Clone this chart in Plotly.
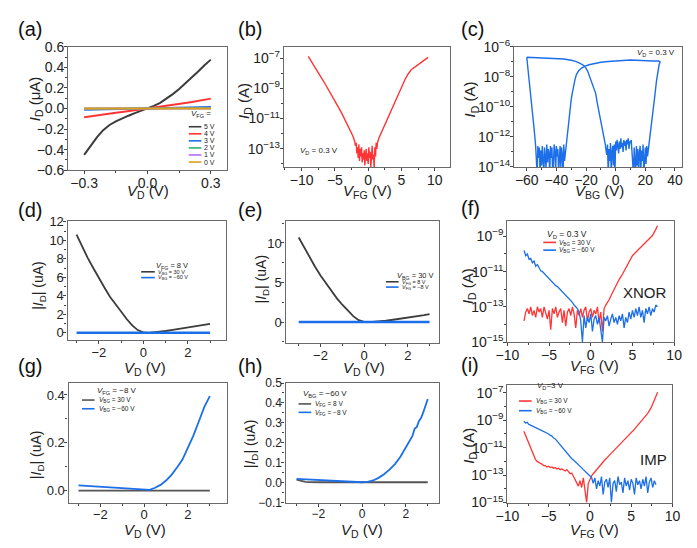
import plotly.graph_objects as go

W, H = 697, 548
FONT = "Liberation Sans, Arial, sans-serif"
BLACK = "#3c3c3c"
RED = "#ff3535"
BLUE = "#1c6fe8"
GREEN = "#2db36b"
PURPLE = "#b46ef0"
ORANGE = "#d9a21b"
GRAY = "#555555"

# ---------------- (a) output curves ----------------
A_VD = [-0.30, -0.27, -0.24, -0.21, -0.18, -0.15, -0.12, -0.09, -0.06, -0.03, 0.00,
        0.03, 0.06, 0.09, 0.12, 0.15, 0.18, 0.21, 0.24, 0.27, 0.30]
A_5V = [-0.45, -0.36, -0.28, -0.21, -0.16, -0.125, -0.095, -0.07, -0.045, -0.022, 0.0,
        0.025, 0.055, 0.095, 0.14, 0.19, 0.25, 0.305, 0.36, 0.42, 0.475]
A_4V = [-0.085, -0.075, -0.066, -0.057, -0.049, -0.041, -0.033, -0.025, -0.016, -0.008, 0.0,
        0.008, 0.017, 0.026, 0.035, 0.044, 0.054, 0.064, 0.074, 0.085, 0.096]
A_3V = [-0.012, -0.011, -0.010, -0.009, -0.007, -0.006, -0.005, -0.004, -0.002, -0.001, 0.0,
        0.001, 0.003, 0.004, 0.006, 0.007, 0.009, 0.010, 0.011, 0.013, 0.014]
A_2V = [-0.003, -0.003, -0.002, -0.002, -0.002, -0.001, -0.001, -0.001, -0.001, 0.0, 0.0,
        0.0, 0.001, 0.001, 0.001, 0.002, 0.002, 0.002, 0.003, 0.003, 0.004]
A_1V = [-0.001, -0.001, -0.001, -0.001, 0.0, 0.0, 0.0, 0.0, 0.0, 0.0, 0.0,
        0.0, 0.0, 0.0, 0.0, 0.0, 0.0, 0.001, 0.001, 0.001, 0.001]
A_0V = [0.0, 0.0, 0.0, 0.0, 0.0, 0.0, 0.0, 0.0, 0.0, 0.0, 0.0,
        0.0, 0.0, 0.0, 0.0, 0.0, 0.0, 0.0, 0.0, 0.0, 0.0]
A_LABELS = ["5 V", "4 V", "3 V", "2 V", "1 V", "0 V"]

# ---------------- (b) transfer, front gate (log10 of I_D) ----------------
B_VFG = [-9.0, -8.5, -8.0, -7.5, -7.0, -6.5, -6.0, -5.5, -5.0, -4.5, -4.0, -3.5, -3.0, -2.6, -2.3, -2.0,
         -1.9, -1.8, -1.7, -1.6, -1.5, -1.4, -1.3, -1.2, -1.1, -1.0, -0.9, -0.8, -0.7, -0.6, -0.5, -0.4,
         -0.3, -0.2, -0.1, 0.0, 0.1, 0.2, 0.3, 0.4, 0.5, 0.6, 0.7, 0.8, 0.9, 1.0, 1.1, 1.2, 1.3,
         1.4, 1.6, 2.0, 2.5, 3.0, 3.5, 4.0, 4.5, 5.0, 5.5, 6.0, 6.5, 7.0, 7.5, 8.0, 8.5, 9.0]
B_LOGI = [-6.88, -7.22, -7.58, -7.95, -8.33, -8.68, -9.05, -9.40, -9.80, -10.22, -10.62, -11.05, -11.45, -11.85, -12.15, -12.55,
          -12.8, -12.6, -13.3, -12.9, -13.6, -12.7, -13.8, -13.0, -13.5, -12.9, -13.9, -13.3, -13.7, -13.1, -14.1, -13.4,
          -13.0, -13.8, -13.3, -14.0, -12.9, -13.6, -13.2, -14.2, -13.1, -12.8, -13.7, -13.4, -14.3, -12.9, -13.5, -12.6, -13.0,
          -12.6, -12.3, -11.9, -11.4, -10.9, -10.4, -9.9, -9.4, -8.9, -8.45, -8.05, -7.75, -7.6, -7.45, -7.3, -7.12, -6.95]

# ---------------- (c) transfer, back gate, double sweep (log10 of I_D) ----------------
C_VBG = [-60, -55, -50, -45, -40, -35, -30, -27, -24, -21, -19, -17, -15, -13.5, -12.5, -11, -10, -9, -8, -7, -6.5,
         -6.0, -5.5, -5.0, -4.5, -4.0, -3.5, -3.0, -2.5, -2.0, -1.5, -1.0, -0.5,
         0.0, 0.5, 1.0, 1.5, 2.0, 2.5, 3.0, 3.5, 4.0, 4.5, 5.0, 5.5,
         6.0, 6.5, 7.0, 7.5, 8.0, 8.5, 9.0, 9.5, 10.0, 10.5, 11.0, 11.5,
         12.0, 12.5, 13.0, 13.5, 14.0, 14.5, 15.0, 15.5, 16.0, 16.5, 17.0, 17.5,
         18.0, 18.5, 19.0, 19.5, 20.0, 20.5, 21.0, 21.5, 22.0,
         22.5, 23.5, 24.5, 25.5, 26.5, 27.5, 28.5, 29.3, 30,
         29, 25, 20, 15, 10, 5, 0, -5, -10, -15, -18, -21, -23, -25, -26.5, -27.5, -28.5, -29.3, -30, -30.7,
         -31.3, -32, -32.7, -33.3,
         -34.0, -34.5, -35.0, -35.5, -36.0, -36.5, -37.0, -37.5, -38.0, -38.5,
         -39.0, -39.5, -40.0, -40.5, -41.0, -41.5, -42.0, -42.5, -43.0, -43.5,
         -44.0, -44.5, -45.0, -45.5, -46.0, -46.5, -47.0, -47.5, -48.0, -48.5,
         -49.0, -49.5, -50.0, -50.5, -51.0, -51.5, -52.0, -52.5, -53.0, -53.5,
         -54, -55, -56, -57, -58, -59, -60]
C_LOGI = [-6.70, -6.72, -6.73, -6.76, -6.78, -6.82, -6.90, -6.97, -7.10, -7.28, -7.60, -8.10, -8.60, -9.10, -9.70, -10.40, -10.90, -11.40, -11.90, -12.50, -12.90,
          -13.2, -12.5, -14.5, -12.8, -13.6, -12.4, -14.5, -13.0, -12.6, -13.9, -12.5, -14.5,
          -12.3, -12.9, -12.2, -12.6, -13.1, -12.3, -12.8, -12.1, -12.7, -12.4, -13.0, -12.2,
          -12.6, -12.3, -12.9, -12.2, -12.5, -12.1, -12.8, -12.3, -12.4, -12.2, -12.7, -13.3,
          -14.5, -12.7, -13.5, -14.5, -12.6, -13.9, -12.8, -14.5, -13.1, -12.6, -14.2, -12.9,
          -13.6, -12.5, -14.5, -13.0, -12.7, -13.8, -12.6, -13.3, -12.9,
          -12.8, -11.8, -10.8, -10.0, -9.2, -8.3, -7.6, -7.2, -7.0,
          -6.95, -6.95, -6.92, -6.93, -6.88, -6.92, -6.93, -6.98, -7.03, -7.12, -7.20, -7.30, -7.42, -7.60, -7.85, -8.20, -8.60, -9.10, -9.50, -10.10,
          -10.70, -11.40, -12.00, -12.40,
          -12.9, -13.6, -12.5, -14.5, -13.2, -12.7, -14.0, -12.6, -13.5, -14.5,
          -12.8, -13.3, -12.6, -14.3, -13.0, -12.5, -13.8, -14.5, -12.7, -13.4,
          -12.6, -14.5, -13.1, -12.8, -13.7, -12.5, -14.1, -13.0, -12.7, -14.5,
          -13.3, -12.6, -13.9, -12.9, -14.5, -12.7, -13.4, -12.6, -14.5, -13.0,
          -12.6, -11.5, -10.5, -9.6, -8.6, -7.7, -6.7]

# ---------------- (d) / (e) output curves ----------------
DE_VD = [-3.0, -2.75, -2.5, -2.25, -2.0, -1.75, -1.5, -1.25, -1.0, -0.75, -0.5, -0.25, 0.0,
         0.25, 0.5, 0.75, 1.0, 1.25, 1.5, 1.75, 2.0, 2.25, 2.5, 2.75, 3.0]
D_ON = [10.6, 9.3, 8.1, 7.0, 5.9, 4.9, 3.9, 3.05, 2.3, 1.5, 0.8, 0.3, 0.05,
        0.0, 0.05, 0.12, 0.2, 0.29, 0.38, 0.46, 0.55, 0.65, 0.75, 0.86, 0.97]
D_OFF = [0.01, 0.01, 0.01, 0.01, 0.01, 0.01, 0.01, 0.01, 0.01, 0.01, 0.0, 0.0, 0.0,
         0.0, 0.0, 0.0, 0.01, 0.01, 0.01, 0.01, 0.01, 0.01, 0.01, 0.01, 0.01]
E_ON = [10.7, 9.4, 8.2, 7.0, 5.9, 4.9, 3.9, 3.0, 2.2, 1.45, 0.75, 0.25, 0.03,
        0.0, 0.04, 0.1, 0.18, 0.27, 0.36, 0.45, 0.55, 0.66, 0.77, 0.88, 1.0]
E_OFF = [0.01, 0.01, 0.01, 0.01, 0.01, 0.01, 0.01, 0.01, 0.01, 0.01, 0.0, 0.0, 0.0,
         0.0, 0.0, 0.0, 0.01, 0.01, 0.01, 0.01, 0.01, 0.01, 0.01, 0.01, 0.01]

# ---------------- (f) XNOR (log10 of I_D) ----------------
F_RED_X = [-8.0, -7.8, -7.6, -7.4, -7.2, -7.0, -6.8, -6.6, -6.4, -6.2, -6.0, -5.8, -5.6, -5.4, -5.2, -5.0,
           -4.8, -4.6, -4.4, -4.2, -4.0, -3.8, -3.6, -3.4, -3.2, -3.0, -2.8, -2.6, -2.4, -2.2, -2.0,
           -1.8, -1.6, -1.4, -1.2, -1.0, -0.8, -0.6, -0.4, -0.2, 0.0, 0.2, 0.4, 0.6, 0.8, 1.0, 1.2, 1.4, 1.6,
           1.8, 2.2, 2.6, 3.0, 3.4, 3.8, 4.2, 4.6, 5.0, 5.4, 5.8, 6.2, 6.6, 7.0, 7.4, 7.8, 8.0]
F_RED = [-13.8, -13.3, -13.1, -13.4, -13.0, -13.5, -13.2, -13.6, -13.0, -13.3, -13.1, -13.6, -13.0, -13.3, -13.7, -13.2,
         -14.3, -13.1, -13.4, -13.0, -13.6, -13.3, -13.1, -13.9, -13.2, -14.1, -13.3, -13.1, -13.5, -13.0, -13.4,
         -14.2, -13.2, -13.5, -13.1, -13.6, -13.2, -13.0, -13.8, -13.3, -13.1, -13.6, -13.2, -13.4, -13.0, -13.9, -13.3, -14.4, -13.1,
         -12.9, -12.6, -12.2, -11.8, -11.45, -11.15, -10.8, -10.45, -10.1, -9.9, -9.7, -9.55, -9.35, -9.15, -8.95, -8.6, -8.4]
F_BLUE_X = [-8.0, -7.8, -7.6, -7.4, -7.2, -7.0, -6.8, -6.6, -6.4, -6.2, -6.0, -5.8, -5.6, -5.4, -5.2, -5.0,
            -4.8, -4.6, -4.4, -4.2, -4.0, -3.8, -3.6, -3.4, -3.2, -3.0, -2.8, -2.6, -2.4, -2.2, -2.0, -1.8, -1.6,
            -1.4, -1.2, -1.0, -0.8, -0.6, -0.4, -0.2, 0.0, 0.2, 0.4, 0.6, 0.8, 1.0, 1.2, 1.4, 1.6,
            1.8, 2.0, 2.2, 2.4, 2.6, 2.8, 3.0, 3.2, 3.4, 3.6, 3.8, 4.0, 4.2, 4.4, 4.6, 4.8,
            5.0, 5.2, 5.4, 5.6, 5.8, 6.0, 6.2, 6.4, 6.6, 6.8, 7.0, 7.2, 7.4, 7.6, 7.8, 8.0]
F_BLUE = [-9.8, -10.1, -10.0, -10.3, -10.25, -10.5, -10.4, -10.7, -10.6, -10.8, -10.95, -11.0, -11.1, -11.2, -11.35, -11.4,
          -11.5, -11.6, -11.7, -11.8, -11.85, -11.95, -12.05, -12.15, -12.25, -12.35, -12.4, -12.5, -12.65, -12.75, -12.9, -13.0, -13.1,
          -13.3, -13.8, -15.0, -13.5, -14.2, -13.6, -13.9, -13.4, -14.4, -13.7, -13.5, -14.0, -13.6, -14.3, -15.0, -13.6,
          -13.8, -13.5, -14.1, -13.7, -13.4, -13.9, -13.6, -14.0, -13.5, -13.8, -13.4, -14.2, -13.6, -13.9, -13.3, -13.7,
          -13.2, -13.6, -13.1, -13.5, -13.0, -13.6, -13.2, -13.9, -13.1, -13.4, -13.0, -13.5, -13.1, -13.3, -12.9, -13.0]

# ---------------- (g) / (h) output curves ----------------
G_VD = [-3.0, -2.5, -2.0, -1.5, -1.0, -0.5, 0.0, 0.25, 0.5, 0.75, 1.0, 1.25, 1.5, 1.75, 2.0, 2.25, 2.5, 2.75, 3.0]
G_BLUE = [0.022, 0.019, 0.016, 0.013, 0.010, 0.006, 0.002, 0.003, 0.012, 0.024, 0.042, 0.066, 0.097, 0.13, 0.18, 0.23, 0.29, 0.35, 0.395]
G_GRAY = [0.0, 0.0, 0.0, 0.0, 0.0, 0.0, 0.0, 0.0, 0.0, 0.0, 0.0, 0.0, 0.0, 0.0, 0.0, 0.0, 0.0, 0.0, 0.0]
H_VD = [-3.0, -2.5, -2.0, -1.5, -1.0, -0.5, 0.0, 0.25, 0.5, 0.75, 1.0, 1.25, 1.5, 1.75, 2.0, 2.2, 2.3, 2.4, 2.5, 2.6, 2.7, 2.8, 2.9, 3.0]
H_BLUE = [0.019, 0.016, 0.013, 0.011, 0.009, 0.006, 0.002, 0.004, 0.011, 0.024, 0.042, 0.065, 0.093, 0.13, 0.175, 0.215, 0.235, 0.27, 0.28, 0.31, 0.325, 0.355, 0.385, 0.42]
H_GRAY_X = [-3.0, -2.8, -2.6, -2.4, -2.2, -2.0, -1.0, 0.0, 1.0, 2.0, 3.0]
H_GRAY = [0.015, 0.008, 0.004, 0.003, 0.002, 0.002, 0.002, 0.002, 0.002, 0.002, 0.002]

# ---------------- (i) IMP (log10 of I_D) ----------------
I_RED_X = [-8.0, -7.8, -7.6, -7.4, -7.2, -7.0, -6.8, -6.6, -6.4, -6.2, -6.0, -5.8, -5.6, -5.4, -5.2, -5.0,
           -4.8, -4.6, -4.4, -4.2, -4.0, -3.8, -3.6, -3.4, -3.2, -3.0, -2.8, -2.6, -2.4, -2.2, -2.0,
           -1.8, -1.6, -1.4, -1.2, -1.0, -0.8, -0.6, -0.4, -0.2, 0.0, 0.2, 0.4, 0.6, 0.8, 1.0,
           1.4, 1.8, 2.2, 2.6, 3.0, 3.4, 3.8, 4.2, 4.6, 5.0, 5.4, 5.8, 6.2, 6.6, 7.0, 7.4, 7.8, 8.0, 8.2]
I_RED = [-9.8, -10.1, -10.35, -10.65, -10.9, -11.2, -11.55, -11.85, -12.0, -12.1, -12.15, -12.2, -12.3, -12.3, -12.4, -12.35,
         -12.45, -12.4, -12.5, -12.45, -12.55, -12.5, -12.6, -12.55, -12.65, -12.7, -12.6, -12.8, -12.9, -12.85, -13.1,
         -13.3, -13.5, -13.8, -13.4, -13.9, -13.2, -14.0, -15.0, -13.6, -13.3, -13.05, -12.9, -12.75, -12.6, -12.45,
         -12.2, -11.9, -11.65, -11.4, -11.15, -10.9, -10.7, -10.45, -10.2, -9.9, -9.65, -9.35, -9.05, -8.75, -8.5, -8.1, -7.55, -7.2, -6.95]
I_BLUE_X = [-8.0, -7.8, -7.6, -7.4, -7.2, -7.0, -6.8, -6.6, -6.4, -6.2, -6.0, -5.8, -5.6, -5.4, -5.2, -5.0,
            -4.8, -4.6, -4.4, -4.2, -4.0, -3.8, -3.6, -3.4, -3.2, -3.0, -2.8, -2.6, -2.4, -2.2, -2.0,
            -1.8, -1.6, -1.4, -1.2, -1.0, -0.8, -0.6, -0.4, -0.2, 0.0, 0.2,
            0.4, 0.6, 0.8, 1.0, 1.2, 1.4, 1.6, 1.8, 2.0, 2.2, 2.4, 2.6, 2.8, 3.0, 3.2, 3.4, 3.6, 3.8, 4.0,
            4.2, 4.4, 4.6, 4.8, 5.0, 5.2, 5.4, 5.6, 5.8, 6.0, 6.2, 6.4, 6.6, 6.8, 7.0, 7.2, 7.4, 7.6, 7.8, 8.0]
I_BLUE = [-9.07, -9.2, -9.15, -9.3, -9.35, -9.42, -9.45, -9.55, -9.6, -9.65, -9.7, -9.75, -9.85, -9.9, -9.95, -10.0,
          -10.1, -10.15, -10.3, -10.36, -10.5, -10.65, -10.8, -10.94, -11.1, -11.25, -11.4, -11.53, -11.65, -11.8, -11.9,
          -12.0, -12.15, -12.25, -12.35, -12.47, -12.6, -12.7, -12.8, -12.95, -13.05, -13.17,
          -13.6, -13.2, -14.0, -13.4, -13.8, -13.1, -14.4, -13.5, -13.3, -13.9, -13.2, -15.0, -13.6, -13.4, -14.2, -13.1, -13.7, -13.5, -14.3,
          -13.2, -13.8, -13.4, -14.1, -13.3, -13.6, -14.4, -13.2, -13.7, -13.4, -14.0, -13.3, -13.8, -13.1, -14.3, -13.5, -13.2, -13.9, -13.4, -13.7]


def amps(logs):
    return [10 ** v for v in logs]


def px(x):
    return x / W


def py(y):
    return 1 - y / H


fig = go.Figure()

# panel boxes in pixels: left, right, top, bottom
BOX = {
    1: (58, 221, 38, 165.7),
    2: (280, 451, 38, 162.3),
    3: (517, 690, 38, 162.3),
    4: (57.3, 220, 218, 341),
    5: (281.7, 440, 218, 344),
    6: (510, 681.7, 217.7, 343.3),
    7: (58.3, 221.7, 385.7, 509.3),
    8: (281.7, 439.3, 385.7, 509.3),
    9: (510, 680, 387.3, 509.3),
}


def add(n, x, y, color, width=1.6):
    fig.add_trace(go.Scatter(x=x, y=y, mode="lines", xaxis="x" if n == 1 else f"x{n}",
                             yaxis="y" if n == 1 else f"y{n}", showlegend=False,
                             line=dict(color=color, width=width)))


# (a)
for ys, c in [(A_5V, BLACK), (A_4V, RED), (A_3V, BLUE), (A_2V, GREEN), (A_1V, PURPLE), (A_0V, ORANGE)]:
    add(1, A_VD, ys, c, 2.0)
# (b)
add(2, B_VFG, amps(B_LOGI), RED, 1.4)
# (c)
add(3, C_VBG, amps(C_LOGI), BLUE, 1.4)
# (d)
add(4, DE_VD, D_ON, BLACK, 1.8)
add(4, DE_VD, D_OFF, BLUE, 2.4)
# (e)
add(5, DE_VD, E_ON, BLACK, 1.8)
add(5, DE_VD, E_OFF, BLUE, 2.4)
# (f)
add(6, F_RED_X, amps(F_RED), RED, 1.3)
add(6, F_BLUE_X, amps(F_BLUE), BLUE, 1.3)
# (g)
add(7, G_VD, G_GRAY, GRAY, 1.8)
add(7, G_VD, G_BLUE, BLUE, 1.8)
# (h)
add(8, H_GRAY_X, H_GRAY, GRAY, 1.8)
add(8, H_VD, H_BLUE, BLUE, 1.8)
# (i)
add(9, I_RED_X, amps(I_RED), RED, 1.3)
add(9, I_BLUE_X, amps(I_BLUE), BLUE, 1.3)


def sup(e):
    return "10<sup>\u2212%d</sup>" % e


AX = {
    # n: x settings, y settings, tick font size
    1: (dict(range=[-0.375, 0.375], tickvals=[-0.3, 0, 0.3], tickformat=".1f", minor=dict(dtick=0.15)),
        dict(range=[-0.6, 0.6], dtick=0.2, tickformat=".1f", minor=dict(dtick=0.1)), 14),
    2: (dict(range=[-12.65, 12.3], dtick=5, minor=dict(dtick=2.5)),
        dict(type="log", range=[-14.2, -6.25], tickvals=[1e-7, 1e-9, 1e-11, 1e-13],
             ticktext=[sup(7), sup(9), sup(11), sup(13)],
             minor=dict(tickvals=[1e-8, 1e-10, 1e-12, 1e-14])), 14),
    3: (dict(range=[-68.5, 44.9], dtick=20, minor=dict(dtick=10)),
        dict(type="log", range=[-14, -6], tickvals=[1e-6, 1e-8, 1e-10, 1e-12, 1e-14],
             ticktext=[sup(6), sup(8), sup(10), sup(12), sup(14)],
             minor=dict(tickvals=[1e-7, 1e-9, 1e-11, 1e-13])), 14),
    4: (dict(range=[-3.4, 3.7], dtick=2, minor=dict(dtick=1)),
        dict(range=[-0.75, 12.1], dtick=2, minor=dict(dtick=1)), 13),
    5: (dict(range=[-3.6, 3.45], dtick=2, minor=dict(dtick=1)),
        dict(range=[-2.6, 12.8], dtick=5, minor=dict(dtick=2.5)), 13),
    6: (dict(range=[-10, 10], dtick=5, minor=dict(dtick=2.5)),
        dict(type="log", range=[-15, -8.1], tickvals=[1e-9, 1e-11, 1e-13, 1e-15],
             ticktext=[sup(9), sup(11), sup(13), sup(15)],
             minor=dict(tickvals=[1e-10, 1e-12, 1e-14])), 14),
    7: (dict(range=[-3.45, 3.8], dtick=2, minor=dict(dtick=1)),
        dict(range=[-0.05, 0.45], dtick=0.2, tickformat=".1f", minor=dict(dtick=0.1)), 13),
    8: (dict(range=[-3.5, 3.5], dtick=2, minor=dict(dtick=1)),
        dict(range=[-0.1, 0.5], dtick=0.1, tickformat=".1f", minor=dict(dtick=0.05)), 12),
    9: (dict(range=[-10, 10], dtick=5, minor=dict(dtick=2.5)),
        dict(type="log", range=[-15, -6.4], tickvals=[1e-7, 1e-9, 1e-11, 1e-13, 1e-15],
             ticktext=[sup(7), sup(9), sup(11), sup(13), sup(15)],
             minor=dict(tickvals=[1e-8, 1e-10, 1e-12, 1e-14])), 14),
}

common = dict(showline=True, mirror=True, linecolor="#6a6a6a", linewidth=1.4, ticks="outside",
              ticklen=3, tickcolor="#444", tickwidth=1, showgrid=False, zeroline=False,
              ticklabelstandoff=-3)

layout = {}
for n, (xs, ys, fs) in AX.items():
    l, r, t, b = BOX[n]
    sx = "" if n == 1 else str(n)
    xa = dict(common, domain=[px(l), px(r)], anchor="y" + sx,
              tickfont=dict(family=FONT, size=fs, color="#222"))
    ya = dict(common, domain=[py(b), py(t)], anchor="x" + sx,
              tickfont=dict(family=FONT, size=fs, color="#222"))
    xm = xs.pop("minor")
    ym = ys.pop("minor")
    xa.update(xs)
    ya.update(ys)
    xa["minor"] = dict(xm, ticks="outside", ticklen=2, tickcolor="#444")
    ya["minor"] = dict(ym, ticks="outside", ticklen=2, tickcolor="#444")
    layout["xaxis" + sx] = xa
    layout["yaxis" + sx] = ya

fig.update_layout(**layout)
fig.update_layout(width=W, height=H, margin=dict(l=0, r=0, t=0, b=0),
                  paper_bgcolor="white", plot_bgcolor="white",
                  font=dict(family=FONT, color="#222"))


def txt(x, y, s, size, xanchor="center", angle=0, color="#222"):
    fig.add_annotation(x=px(x), y=py(y), xref="paper", yref="paper", text=s, showarrow=False,
                       font=dict(size=size, family=FONT, color=color), xanchor=xanchor,
                       yanchor="middle", textangle=angle)


def seg(x0, x1, y, color, width=2):
    fig.add_shape(type="line", xref="paper", yref="paper", x0=px(x0), x1=px(x1), y0=py(y), y1=py(y),
                  line=dict(color=color, width=width))


# panel labels
for lab, x, y in [("(a)", 4, 20), ("(b)", 231, 20), ("(c)", 460, 20),
                  ("(d)", 4, 207), ("(e)", 231, 207), ("(f)", 460, 205),
                  ("(g)", 4, 368), ("(h)", 231, 368), ("(i)", 460, 367)]:
    txt(x, y, lab, 20, xanchor="left", color="#111")

ID = "<i>I</i><sub>D</sub>"
AID = "|<i>I</i><sub>D</sub>|"
VD = "<i>V</i><sub>D</sub> (V)"
VFG = "<i>V</i><sub>FG</sub> (V)"
VBG = "<i>V</i><sub>BG</sub> (V)"

# axis titles
txt(25, 92, ID + " (\u03bcA)", 15, angle=-90)
txt(140, 188, VD, 15)
txt(240, 94, ID + " (A)", 15, angle=-90)
txt(366, 188, VFG, 15)
txt(473, 92, ID + " (A)", 15, angle=-90)
txt(605, 188, VBG, 15)
txt(27, 285, AID + " (uA)", 14, angle=-90)
txt(137, 371, VD, 15)
txt(257, 278, AID + " (uA)", 14, angle=-90)
txt(362, 371, VD, 15)
txt(470, 286, ID + " (A)", 15, angle=-90)
txt(600, 369, VFG, 15)
txt(26, 460, AID + " (uA)", 14, angle=-90)
txt(137, 538, VD, 15)
txt(246, 448, AID + " (uA)", 14, angle=-90)
txt(360, 538, VD, 15)
txt(471, 450, ID + " (A)", 15, angle=-90)
txt(600, 538, VFG, 15)

# legend (a)
txt(182, 107.5, "<i>V</i><sub>FG</sub> =", 8, xanchor="left")
for k, (lab, c) in enumerate(zip(A_LABELS, [BLACK, RED, BLUE, GREEN, PURPLE, ORANGE])):
    yy = 120.7 + 7.3 * k
    seg(182, 195, yy, c, 1.6)
    txt(195.5, yy, lab, 7, xanchor="left")

# (b), (c) notes
txt(294, 146, "<i>V</i><sub>D</sub> = 0.3 V", 8, xanchor="left")
txt(641, 44, "<i>V</i><sub>D</sub> = 0.3 V", 8, xanchor="left")

# legend (d)
txt(146, 264.5, "<i>V</i><sub>FG</sub> = 8 V", 7.5, xanchor="left")
seg(133, 147, 270.7, BLACK, 1.6)
txt(148, 271, "<i>V</i><sub>BG</sub> = 30 V", 5.5, xanchor="left")
seg(133, 147, 276.7, BLUE, 1.6)
txt(148, 277, "<i>V</i><sub>BG</sub> = \u221260 V", 5.5, xanchor="left")

# legend (e)
txt(394, 275, "<i>V</i><sub>BG</sub> = 30 V", 7.5, xanchor="left")
seg(385, 398, 281, BLACK, 1.6)
txt(399, 281.3, "<i>V</i><sub>FG</sub> = 8 V", 5.5, xanchor="left")
seg(385, 398, 286.5, BLUE, 1.6)
txt(399, 286.8, "<i>V</i><sub>FG</sub> = \u22128 V", 5.5, xanchor="left")

# legend (f)
txt(549, 232.3, "<i>V</i><sub>D</sub> = 0.3 V", 8.5, xanchor="left")
seg(547, 560, 240.3, RED, 1.6)
txt(561, 240.6, "<i>V</i><sub>BG</sub> = 30 V", 6.5, xanchor="left")
seg(547, 560, 248.3, BLUE, 1.6)
txt(561, 248.6, "<i>V</i><sub>BG</sub> = \u221260 V", 6.5, xanchor="left")
txt(652, 292, "XNOR", 15)

# legend (g)
txt(85, 394.3, "<i>V</i><sub>FG</sub> = \u22128 V", 8, xanchor="left")
seg(72, 85, 403.3, GRAY, 1.6)
txt(88, 403.6, "<i>V</i><sub>BG</sub> = 30 V", 6.5, xanchor="left")
seg(72, 85, 412.3, BLUE, 1.6)
txt(88, 412.6, "<i>V</i><sub>BG</sub> = \u221260 V", 6.5, xanchor="left")

# legend (h)
txt(298, 397, "<i>V</i><sub>BG</sub> = \u221260 V", 8, xanchor="left")
seg(295, 308, 407.3, GRAY, 1.6)
txt(310, 407.6, "<i>V</i><sub>FG</sub> = 8 V", 6.5, xanchor="left")
seg(295, 308, 416, BLUE, 1.6)
txt(310, 416.3, "<i>V</i><sub>FG</sub> = \u22128 V", 6.5, xanchor="left")

# legend (i)
txt(538, 388.3, "<i>V</i><sub>D</sub>=3 V", 8, xanchor="left")
seg(522, 535, 404.3, RED, 1.6)
txt(537, 404.6, "<i>V</i><sub>BG</sub> = 30 V", 6.5, xanchor="left")
seg(522, 535, 414.3, BLUE, 1.6)
txt(537, 414.6, "<i>V</i><sub>BG</sub> = \u221260 V", 6.5, xanchor="left")
txt(660, 465, "IMP", 15)

fig.write_html("out.html")
